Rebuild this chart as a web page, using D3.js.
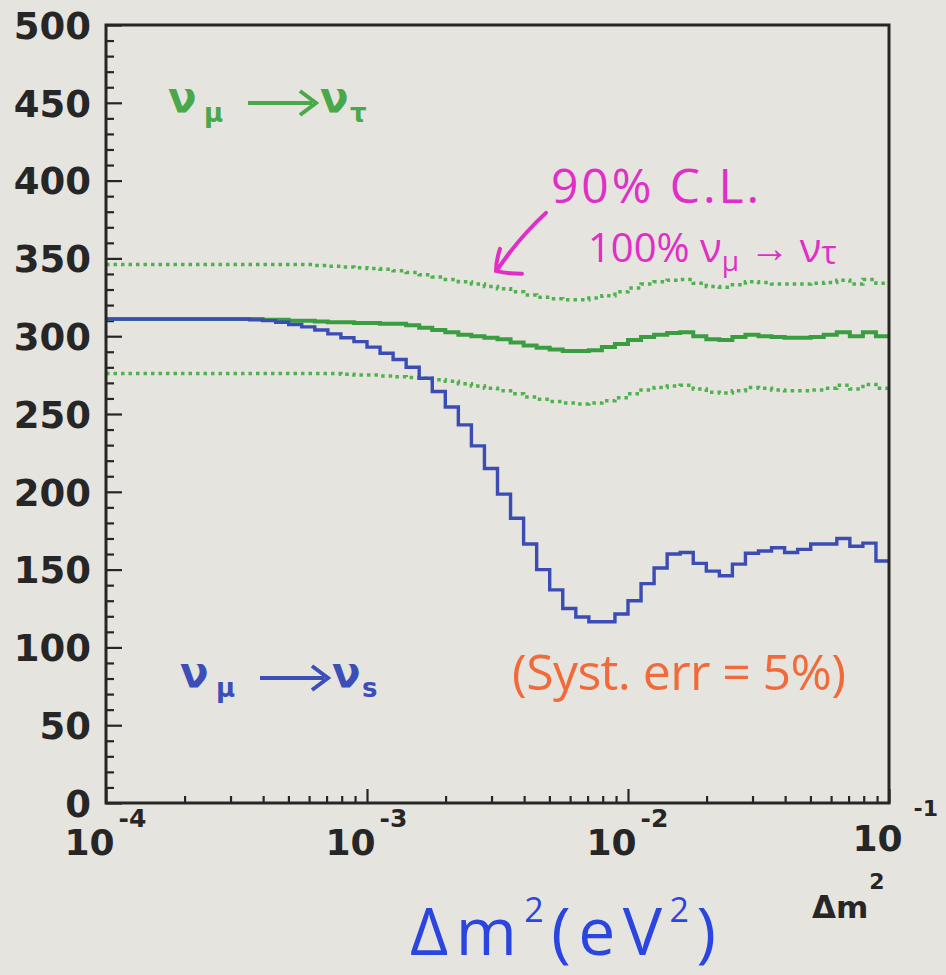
<!DOCTYPE html>
<html>
<head>
<meta charset="utf-8">
<script src="https://cdn.jsdelivr.net/npm/d3@7"></script>
<style>
  html, body { margin: 0; padding: 0; background: #e6e4de; }
  svg { display: block; }
</style>
</head>
<body>
<svg id="chart" width="946" height="975"></svg>
<script>
// ---- data -------------------------------------------------------------
// Δm² range (eV²) and histogram binning: 20 log-uniform bins per decade
const dm2Min = 1e-4;
const dm2Max = 1e-1;
const binsPerDecade = 20;

// y axis ticks (number of events)
const yMajorTicks = [0, 50, 100, 150, 200, 250, 300, 350, 400, 450, 500];
const yMinorTicks = d3.range(0, 501, 10).filter(v => v % 50 !== 0);

// x axis ticks
const xMajorTicks = [1e-4, 1e-3, 1e-2, 1e-1];
const xTickExponents = ["-4", "-3", "-2", "-1"];
const xMinorMantissas = [2, 3, 4, 5, 6, 7, 8, 9];

// expected events, 100% νμ → ντ (one value per bin)
const nuTau = [
  311, 311, 311, 311, 311, 311, 311, 311, 311, 311,
  311, 311, 310.5, 310.5, 310, 310, 309.5, 309, 309, 308.5,
  308.5, 308, 308, 307, 305.5, 304, 302.5, 301, 300, 299,
  298, 296, 294, 292.5, 291.5, 290.5, 290.5, 291, 293, 295,
  297.5, 299.5, 301, 302, 302.5, 300, 298, 297.5, 299.5, 301,
  300, 299.5, 299, 299, 299.5, 301, 302.5, 300, 302.5, 300
];
// 90% C.L. band around the νμ → ντ expectation (upper / lower)
const nuTauUpper = [
  346, 346, 346, 346, 346, 346, 346, 346, 346, 346,
  346, 346, 346, 346, 346, 346, 345.5, 345, 344.5, 344,
  343.5, 343, 342, 341, 339.5, 338, 336.5, 335, 333.5, 332,
  330.5, 328.5, 326.5, 325, 324, 323.5, 323.5, 324.5, 326, 328.5,
  331, 333.5, 335, 336, 336.5, 334, 332, 331.5, 333, 335,
  334.5, 333.5, 333.5, 333.5, 334, 334.5, 336, 333.5, 336.5, 334
];
const nuTauLower = [
  276, 276, 276, 276, 276, 276, 276, 276, 276, 276,
  276, 276, 276, 276, 276, 276, 276, 276, 275.5, 275,
  275, 274.5, 274, 273.5, 273, 272, 271, 269.5, 268, 266.5,
  265, 263, 261, 259.5, 258, 257, 256.5, 257, 258.5, 260.5,
  263, 265.5, 267, 268, 268.5, 266, 264, 263.5, 265, 267,
  266.5, 265.5, 265, 265, 265.5, 266.5, 268.5, 266, 269, 266.5
];
// expected events, νμ → νs
const nuSterile = [
  311, 311, 311, 311, 311, 311, 311, 311, 311, 311,
  311, 310.5, 310, 309, 307.5, 306, 304, 301.5, 299, 296.5,
  293, 289, 285, 280, 273, 264.5, 254.5, 243, 229.5, 215,
  198.5, 183, 166.5, 150, 137, 125, 119.5, 116.5, 116.5, 121.5,
  130, 141, 151, 160, 161, 154, 149, 146, 153.5, 160.5,
  162, 164, 161, 163, 166.5, 166.5, 170, 165, 167, 155.5
];

// ---- layout -------------------------------------------------------------
const svg = d3.select("#chart");
const W = 946, H = 975;
const frame = { left: 106, right: 889, top: 25, bottom: 803 };

svg.append("rect").attr("width", W).attr("height", H).attr("fill", "#e6e4de");

const x = d3.scaleLog().domain([dm2Min, dm2Max]).range([frame.left, frame.right]);
const y = d3.scaleLinear().domain([0, 500]).range([frame.bottom, frame.top]);

const nBins = nuTau.length;
const edges = d3.range(nBins + 1).map(i => dm2Min * Math.pow(10, i / binsPerDecade));

const ink = "#262626";
const axisFont = "'DejaVu Sans', 'Liberation Sans', Arial, sans-serif";
const handFont = "'Open Sans', 'Noto Sans', sans-serif";

// ---- axes ---------------------------------------------------------------
function styleAxis(g) {
  g.select(".domain").remove();
  g.selectAll(".tick line").attr("stroke", ink).attr("stroke-width", 2.2);
}

// left axis: major and minor ticks pointing into the frame
svg.append("g")
  .attr("transform", `translate(${frame.left},0)`)
  .call(d3.axisLeft(y).tickValues(yMinorTicks).tickSize(-8).tickFormat(""))
  .call(styleAxis);

svg.append("g")
  .attr("transform", `translate(${frame.left},0)`)
  .call(d3.axisLeft(y).tickValues(yMajorTicks).tickSize(-16).tickPadding(15).tickFormat(d3.format("d")))
  .call(styleAxis)
  .call(g => g.selectAll(".tick text")
    .attr("font-family", axisFont)
    .attr("font-weight", "bold")
    .attr("font-size", 37)
    .attr("fill", ink)
    .attr("dy", "0.36em"));

// bottom axis: logarithmic ticks
const xMinorTicks = [];
xMajorTicks.slice(0, -1).forEach(d => xMinorMantissas.forEach(m => xMinorTicks.push(d * m)));

svg.append("g")
  .attr("transform", `translate(0,${frame.bottom})`)
  .call(d3.axisBottom(x).tickValues(xMinorTicks).tickSize(-7).tickFormat(""))
  .call(styleAxis);

svg.append("g")
  .attr("transform", `translate(0,${frame.bottom})`)
  .call(d3.axisBottom(x).tickValues(xMajorTicks).tickSize(-14).tickFormat(""))
  .call(styleAxis)
  .call(g => g.selectAll(".tick").each(function (d, i) {
    const last = i === xMajorTicks.length - 1;
    const t = d3.select(this).select("text")
      .attr("font-family", axisFont)
      .attr("font-weight", "bold")
      .attr("fill", ink)
      .attr("text-anchor", "start")
      .attr("y", last ? 48 : 52)
      .attr("dy", 0)
      .attr("x", last ? -37 : -42);
    t.append("tspan").attr("font-size", 36).text("10");
    t.append("tspan")
      .attr("font-size", last ? 22 : 25)
      .attr("dx", last ? 11 : 4)
      .attr("dy", last ? -35 : -28)
      .text(xTickExponents[i]);
  }));

// axis title
const title = svg.append("text")
  .attr("x", 812).attr("y", 918)
  .attr("font-family", axisFont).attr("font-weight", "bold")
  .attr("fill", ink);
title.append("tspan").attr("font-size", 31).text("Δm");
title.append("tspan").attr("font-size", 22).attr("dy", -29).attr("dx", 1).text("2");

// ---- curves -------------------------------------------------------------
const stepLine = d3.line()
  .x(d => x(d[0]))
  .y(d => y(d[1]))
  .curve(d3.curveStepAfter);

function histPoints(values) {
  const pts = values.map((v, i) => [edges[i], v]);
  pts.push([edges[nBins], values[nBins - 1]]);
  return pts;
}

const plot = svg.append("g");

plot.append("path")
  .attr("d", stepLine(histPoints(nuTauUpper)))
  .attr("fill", "none").attr("stroke", "#4fb24f")
  .attr("stroke-width", 3.5).attr("stroke-dasharray", "3.5,4");

plot.append("path")
  .attr("d", stepLine(histPoints(nuTauLower)))
  .attr("fill", "none").attr("stroke", "#4fb24f")
  .attr("stroke-width", 3.5).attr("stroke-dasharray", "3.5,4");

plot.append("path")
  .attr("d", stepLine(histPoints(nuTau)))
  .attr("fill", "none").attr("stroke", "#3a9d3f")
  .attr("stroke-width", 4);

plot.append("path")
  .attr("d", stepLine(histPoints(nuSterile)))
  .attr("fill", "none").attr("stroke", "#3b4db4")
  .attr("stroke-width", 3.4);

// frame
svg.append("rect")
  .attr("x", frame.left).attr("y", frame.top)
  .attr("width", frame.right - frame.left).attr("height", frame.bottom - frame.top)
  .attr("fill", "none").attr("stroke", ink).attr("stroke-width", 3);

// ---- channel labels -------------------------------------------------------
function channelLabel(px, py, sub, color) {
  const g = svg.append("g").attr("fill", color)
    .attr("font-family", axisFont).attr("font-weight", "bold");
  g.append("text").attr("x", px).attr("y", py).attr("font-size", 42).text("ν");
  g.append("text").attr("x", px + 36).attr("y", py + 10).attr("font-size", 26).text("μ");
  g.append("line")
    .attr("x1", px + 80).attr("x2", px + 144)
    .attr("y1", py - 9).attr("y2", py - 9)
    .attr("stroke", color).attr("stroke-width", 4);
  g.append("path")
    .attr("d", `M${px + 132},${py - 21} L${px + 148},${py - 9} L${px + 132},${py + 3}`)
    .attr("fill", "none").attr("stroke", color).attr("stroke-width", 4);
  g.append("text").attr("x", px + 152).attr("y", py).attr("font-size", 42).text("ν");
  g.append("text").attr("x", px + 182).attr("y", py + 10).attr("font-size", 26).text(sub);
}
channelLabel(168, 112, "τ", "#48a84a");
channelLabel(180, 687, "s", "#3c4fb8");

// ---- hand annotations -----------------------------------------------------
const magenta = "#e02fc6";
svg.append("text")
  .attr("x", 551).attr("y", 203)
  .attr("font-family", handFont).attr("font-size", 48)
  .attr("fill", magenta).attr("textLength", 208)
  .text("90% C.L.");

const cl = svg.append("text")
  .attr("x", 588).attr("y", 262)
  .attr("font-family", handFont).attr("font-size", 40)
  .attr("fill", magenta);
cl.append("tspan").text("100% ν");
cl.append("tspan").attr("font-size", 28).attr("dy", 9).text("μ");
cl.append("tspan").attr("dy", -9).text(" → ν");
cl.append("tspan").attr("font-size", 32).attr("dy", 2).text("τ");

// arrow pointing at the upper 90% C.L. curve
const arrowTip = [3.12e-3, 342];
const tx = x(arrowTip[0]), ty = y(arrowTip[1]);
svg.append("path")
  .attr("d", `M${tx + 50},${ty - 58} Q${tx + 22},${ty - 32} ${tx + 2},${ty - 2}` +
             ` M${tx + 4},${ty - 22} Q${tx},${ty - 10} ${tx},${ty}` +
             ` Q${tx + 12},${ty + 3} ${tx + 26},${ty + 3}`)
  .attr("fill", "none").attr("stroke", magenta)
  .attr("stroke-width", 4).attr("stroke-linecap", "round");

svg.append("text")
  .attr("x", 512).attr("y", 690)
  .attr("font-family", handFont).attr("font-size", 50)
  .attr("fill", "#f26a3a").attr("textLength", 334)
  .text("(Syst. err = 5%)");

const unit = svg.append("text")
  .attr("x", 410).attr("y", 955)
  .attr("font-family", handFont).attr("font-size", 66)
  .attr("fill", "#2b46e0")
  .attr("textLength", 306).attr("lengthAdjust", "spacing");
unit.append("tspan").text("Δm");
unit.append("tspan").attr("font-size", 34).attr("dy", -33).text("2");
unit.append("tspan").attr("dy", 33).text("(eV");
unit.append("tspan").attr("font-size", 34).attr("dy", -33).text("2");
unit.append("tspan").attr("dy", 33).text(")");
</script>
</body>
</html>
